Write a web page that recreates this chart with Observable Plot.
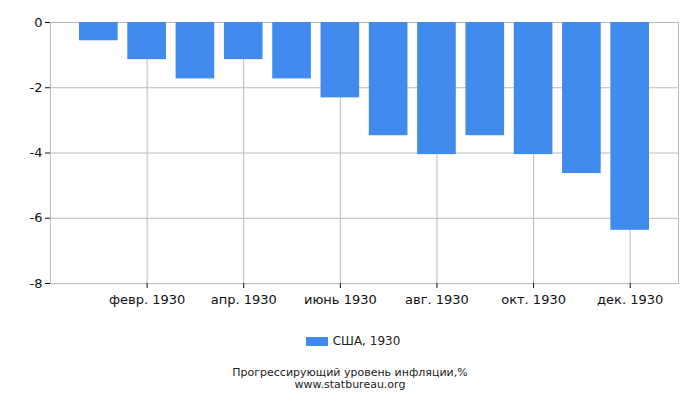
<!DOCTYPE html>
<html>
<head>
<meta charset="utf-8">
<script src="https://cdn.jsdelivr.net/npm/d3@7"></script>
<script src="https://cdn.jsdelivr.net/npm/@observablehq/plot@0.6"></script>
<style>
  body { margin: 0; background: #fff; font-family: "DejaVu Sans", sans-serif; }
  #wrap { width: 700px; }
  #legend { height: 34px; display: flex; justify-content: center; align-items: center; font-size: 12px; color: #222; margin-top: 4px; }
  #legend .sw { width: 22px; height: 9px; background: #418bef; margin-right: 5px; margin-left: 6px; }
  #caption { text-align: center; font-size: 11px; color: #222; line-height: 11.5px; margin-top: 9px; }
</style>
</head>
<body>
<div id="wrap">
  <div id="chart"></div>
  <div id="legend"><div class="sw"></div><span>США, 1930</span></div>
  <div id="caption">Прогрессирующий уровень инфляции,%<br>www.statbureau.org</div>
</div>
<script>
const months = ["янв. 1930","февр. 1930","март 1930","апр. 1930","май 1930","июнь 1930","июль 1930","авг. 1930","сент. 1930","окт. 1930","нояб. 1930","дек. 1930"];
const values = [-0.56, -1.14, -1.73, -1.14, -1.73, -2.31, -3.47, -4.05, -3.47, -4.05, -4.63, -6.37];
const yTicks = [-8, -6, -4, -2, 0];
const xTicks = ["февр. 1930","апр. 1930","июнь 1930","авг. 1930","окт. 1930","дек. 1930"];
const seriesName = "США, 1930";

const data = months.map((m, i) => ({month: m, value: values[i]}));

const chart = Plot.plot({
  width: 700,
  height: 320,
  marginTop: 22,
  marginBottom: 37,
  marginLeft: 50,
  marginRight: 22,
  style: {fontFamily: "DejaVu Sans, sans-serif", fontSize: "13px", color: "#111"},
  x: {type: "band", domain: months, paddingInner: 0.2, paddingOuter: 0.6, round: false, label: null},
  y: {domain: [-8, 0], label: null},
  marks: [
    Plot.gridX(xTicks, {stroke: "#bbb", strokeOpacity: 1}),
    Plot.gridY(yTicks, {stroke: "#bbb", strokeOpacity: 1}),
    Plot.frame({stroke: "#bbb"}),
    Plot.barY(data, {x: "month", y: "value", fill: "#418bef"}),
    Plot.axisX(xTicks, {tickSize: 5, tickPadding: 6, stroke: "#111", fontSize: 13, label: null}),
    Plot.axisY(yTicks, {tickSize: 5, tickPadding: 3, stroke: "#111", fontSize: 13, tickFormat: d => String(d), label: null})
  ]
});
document.getElementById("chart").appendChild(chart);
document.querySelector("#legend span").textContent = seriesName;
</script>
</body>
</html>
